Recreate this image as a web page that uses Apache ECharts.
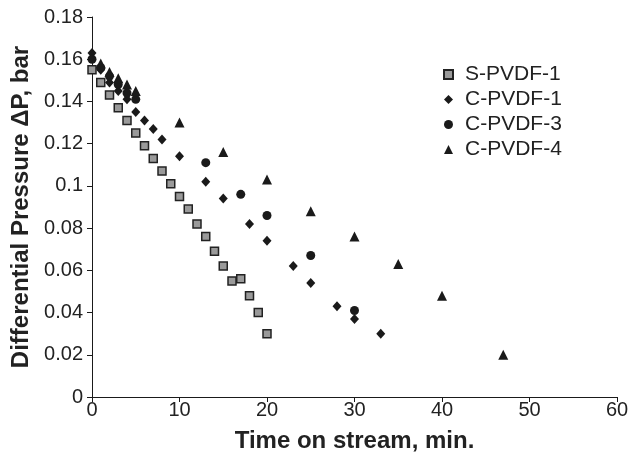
<!DOCTYPE html>
<html><head><meta charset="utf-8">
<script src="https://cdn.jsdelivr.net/npm/echarts@6/dist/echarts.min.js"></script>
<style>html,body{margin:0;padding:0;background:#fff}#c{width:632px;height:458px}</style>
</head><body><div id="c"></div>
<script>
const xTicks = [0,10,20,30,40,50,60];
const yTicks = [0,0.02,0.04,0.06,0.08,0.1,0.12,0.14,0.16,0.18];
const seriesNames = ['S-PVDF-1','C-PVDF-1','C-PVDF-3','C-PVDF-4'];
const sT = [0,1,2,3,4,5,6,7,8,9,10,11,12,13,14,15,16,17,18,19,20];
const sV = [0.155,0.149,0.143,0.137,0.131,0.125,0.119,0.113,0.107,0.101,0.095,0.089,0.082,0.076,0.069,0.062,0.055,0.056,0.048,0.040,0.030];
const c1T = [0,1,2,3,4,5,6,7,8,10,13,15,18,20,23,25,28,30,33];
const c1V = [0.163,0.155,0.149,0.145,0.141,0.135,0.131,0.127,0.122,0.114,0.102,0.094,0.082,0.074,0.062,0.054,0.043,0.037,0.030];
const c3T = [0,1,2,3,4,5,13,17,20,25,30];
const c3V = [0.160,0.156,0.152,0.148,0.144,0.141,0.111,0.096,0.086,0.067,0.041];
const c4T = [1,2,3,4,5,10,15,20,25,30,35,40,47];
const c4V = [0.158,0.154,0.151,0.148,0.145,0.130,0.116,0.103,0.088,0.076,0.063,0.048,0.020];

const zip = (a,b) => a.map((t,i)=>[t,b[i]]);
const font = 'Liberation Sans, Arial, sans-serif';
const ink = '#1a1a1a';
const chart = echarts.init(document.getElementById('c'));
chart.setOption({
  animation:false,
  backgroundColor:'#fff',
  grid:{left:92,right:15,top:17,bottom:58},
  legend:{
    orient:'vertical', left:438, top:59, itemGap:4, itemWidth:9, itemHeight:9,
    textStyle:{fontFamily:font,fontSize:21,lineHeight:21,color:'#222',padding:[0,0,0,7]},
    data:seriesNames
  },
  xAxis:{
    type:'value', min:0, max:60, interval:10,
    name:'Time on stream, min.', nameLocation:'middle', nameGap:32,
    nameTextStyle:{fontFamily:font,fontSize:24,fontWeight:'bold',color:'#222'},
    axisLine:{show:true,lineStyle:{color:ink,width:1}},
    axisTick:{show:true,length:5,lineStyle:{color:ink}},
    axisLabel:{fontFamily:font,fontSize:20,color:'#222',margin:3,formatter:v=>xTicks.includes(v)?String(v):''},
    splitLine:{show:false}
  },
  yAxis:{
    type:'value', min:0, max:0.18, interval:0.02,
    name:'Differential Pressure \u0394P, bar', nameLocation:'middle', nameGap:57,
    nameTextStyle:{fontFamily:font,fontSize:24,fontWeight:'bold',color:'#222'},
    axisLine:{show:true,lineStyle:{color:ink,width:1}},
    axisTick:{show:true,length:5,lineStyle:{color:ink}},
    axisLabel:{fontFamily:font,fontSize:20,color:'#222',margin:9,
      formatter:v=>{const r=Math.round(v*100)/100;return yTicks.some(t=>Math.abs(t-r)<1e-9)?String(r):'';}},
    splitLine:{show:false}
  },
  series:[
    {name:seriesNames[0],type:'scatter',symbol:'rect',symbolSize:8,
     itemStyle:{color:'#9a9a9a',borderColor:'#222',borderWidth:1.5,opacity:1},data:zip(sT,sV)},
    {name:seriesNames[1],type:'scatter',symbol:'diamond',symbolSize:[9,10],
     itemStyle:{color:ink,opacity:1},data:zip(c1T,c1V)},
    {name:seriesNames[2],type:'scatter',symbol:'circle',symbolSize:9,
     itemStyle:{color:ink,opacity:1},data:zip(c3T,c3V)},
    {name:seriesNames[3],type:'scatter',symbol:'triangle',symbolSize:[10,10],
     itemStyle:{color:ink,opacity:1},data:zip(c4T,c4V)}
  ]
});
</script></body></html>
